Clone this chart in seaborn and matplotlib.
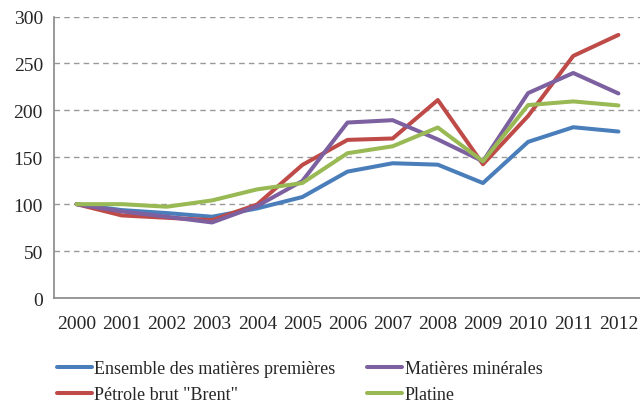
import matplotlib
matplotlib.use("Agg")
import matplotlib.pyplot as plt
import seaborn as sns
import pandas as pd
import numpy as np
from matplotlib.ticker import FixedLocator
from matplotlib.lines import Line2D

years = ["2000", "2001", "2002", "2003", "2004", "2005", "2006",
         "2007", "2008", "2009", "2010", "2011", "2012"]
ensemble = [100, 93.7, 90.5, 86.6, 95.5, 107.6, 134.7, 143.6, 142.1, 122.5, 166.4, 182, 177.4]
minerales = [100, 92.3, 86.6, 80.5, 98, 124.7, 187, 189.5, 169, 145.7, 218.4, 239.8, 218]
brent = [100, 88, 85.5, 83, 99.7, 141.8, 168.5, 170, 211, 142.5, 194, 258, 280.4]
platine = [100, 100, 97.3, 104, 115.8, 122.5, 154.3, 161.7, 181.7, 145.7, 205.6, 209.5, 205.2]

names = ["Ensemble des matières premières", "Pétrole brut \"Brent\"",
         "Matières minérales", "Platine"]
series = [ensemble, brent, minerales, platine]
colors = ["#4A7EBB", "#BE4B48", "#7D60A0", "#98B954"]

rows = []
for n, vals in zip(names, series):
    for i, (y, v) in enumerate(zip(years, vals)):
        rows.append({"pos": i, "year": y, "val": v, "serie": n})
df = pd.DataFrame(rows)

sns.set_style("white")
plt.rcParams["font.family"] = ["Liberation Serif", "DejaVu Serif"]

fig = plt.figure(figsize=(6.4, 4.06), dpi=100)
ax = fig.add_axes([54/640, 1-299/406, 587/640, (299-17.5)/406])

palette = dict(zip(names, colors))
sns.lineplot(data=df, x="pos", y="val", hue="serie", hue_order=names,
             palette=palette, linewidth=2.9, ax=ax, legend=False)

ax.set_ylim(0, 300)
ax.set_xlim(-0.5, 12.5)
ax.set_yticks(np.arange(0, 301, 50))
ax.set_xticks(range(len(years)))
ax.set_xticklabels(years)
ax.xaxis.set_minor_locator(FixedLocator(np.arange(-0.5, 13, 1)))
ax.tick_params(axis="x", which="major", length=0, pad=12, labelsize=14)
ax.tick_params(axis="x", which="minor", length=5, color="#888888", width=1)
ax.tick_params(axis="y", which="major", length=5, color="#888888", width=1,
               labelsize=14, pad=3)
ax.set_xlabel("")
ax.set_ylabel("")
ax.yaxis.grid(True, linestyle=(0, (4, 3)), color="#999999", linewidth=1)
ax.set_axisbelow(True)
for s in ["top", "right"]:
    ax.spines[s].set_visible(False)
for s in ["left", "bottom"]:
    ax.spines[s].set_color("#888888")
    ax.spines[s].set_linewidth(1.2)

handles = [Line2D([0], [0], color=c, linewidth=2.9) for c in colors]
leg = fig.legend(handles, names, loc="upper left", ncol=2,
                 bbox_to_anchor=(57/640, 1-361/406), frameon=False,
                 fontsize=13, handlelength=1.95, handletextpad=0.12,
                 columnspacing=1.75, labelspacing=0.5, borderaxespad=0,
                 borderpad=0)

fig.savefig("out.png", dpi=100)
